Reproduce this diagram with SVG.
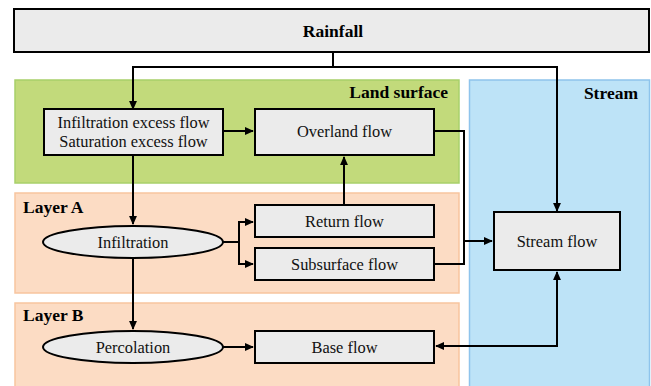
<svg xmlns="http://www.w3.org/2000/svg" width="651" height="386" viewBox="0 0 651 386">
<defs>
<style>
.box{fill:#ebebeb;stroke:#000;stroke-width:2}
.t{font-family:'Liberation Serif','Times New Roman',serif;font-size:16.4px;fill:#111;text-anchor:middle}
.b{font-family:'Liberation Serif','Times New Roman',serif;font-size:17.5px;font-weight:bold;fill:#000}
.c{fill:none;stroke:#000;stroke-width:2}
</style>
<marker id="ah" viewBox="0 0 10 10" refX="9" refY="5" markerWidth="4.5" markerHeight="4" orient="auto-start-reverse" markerUnits="strokeWidth" preserveAspectRatio="none">
<path d="M0,0 L10,5 L0,10 z" fill="#000"/>
</marker>
</defs>
<rect width="651" height="386" fill="#fff"/>
<g id="zones">
<rect x="15" y="80" width="444" height="103" fill="#c2da7b" stroke="#a8d06a" stroke-width="1.5"/>
<rect x="469.5" y="80" width="180" height="310" fill="#bde3f7" stroke="#8ec4ec" stroke-width="1.5"/>
<rect x="15" y="193" width="444" height="100" fill="#fcdcc4" stroke="#f8c59e" stroke-width="1.5"/>
<rect x="15" y="303" width="444" height="90" fill="#fcdcc4" stroke="#f8c59e" stroke-width="1.5"/>
<text class="b" x="448" y="98" text-anchor="end">Land surface</text>
<text class="b" x="638" y="99" text-anchor="end">Stream</text>
<text class="b" x="23" y="213">Layer A</text>
<text class="b" x="23" y="321">Layer B</text>
</g>
<g id="connectors">
<path class="c" d="M333,52 V67 H133 V109" marker-end="url(#ah)"/>
<path class="c" d="M333,67 H557 V211" marker-end="url(#ah)"/>
<path class="c" d="M223,131 H253" marker-end="url(#ah)"/>
<path class="c" d="M133,155 V224" marker-end="url(#ah)"/>
<path class="c" d="M223,242 H239 V222 H253" marker-end="url(#ah)"/>
<path class="c" d="M239,242 V264 H253" marker-end="url(#ah)"/>
<path class="c" d="M344,205 V157" marker-end="url(#ah)"/>
<path class="c" d="M434,131 H464 V264 H434"/>
<path class="c" d="M464,241 H492" marker-end="url(#ah)"/>
<path class="c" d="M133,258 V329" marker-end="url(#ah)"/>
<path class="c" d="M223,347 H253" marker-end="url(#ah)"/>
<path class="c" d="M436,346 H557 V272" marker-start="url(#ah)" marker-end="url(#ah)"/>
</g>
<g id="rainfall">
<rect class="box" x="14" y="9" width="635" height="43"/>
<text class="b" x="333" y="37" text-anchor="middle">Rainfall</text>
</g>
<g id="excess">
<rect class="box" x="44" y="109" width="179" height="46"/>
<text class="t" x="133.5" y="128">Infiltration excess flow</text>
<text class="t" x="133.5" y="147">Saturation excess flow</text>
</g>
<g id="overland">
<rect class="box" x="255" y="109" width="179" height="46"/>
<text class="t" x="344.5" y="137">Overland flow</text>
</g>
<g id="infiltration">
<ellipse class="box" cx="133" cy="242" rx="90" ry="16"/>
<text class="t" x="133" y="248">Infiltration</text>
</g>
<g id="return">
<rect class="box" x="255" y="205" width="179" height="32"/>
<text class="t" x="344.5" y="227">Return flow</text>
</g>
<g id="subsurface">
<rect class="box" x="255" y="248" width="179" height="32"/>
<text class="t" x="344.5" y="270">Subsurface flow</text>
</g>
<g id="streamflow">
<rect class="box" x="494" y="212" width="126" height="58"/>
<text class="t" x="557" y="247">Stream flow</text>
</g>
<g id="percolation">
<ellipse class="box" cx="133" cy="347" rx="90" ry="16"/>
<text class="t" x="133" y="353">Percolation</text>
</g>
<g id="baseflow">
<rect class="box" x="255" y="331" width="179" height="32"/>
<text class="t" x="344.5" y="353">Base flow</text>
</g>
</svg>
